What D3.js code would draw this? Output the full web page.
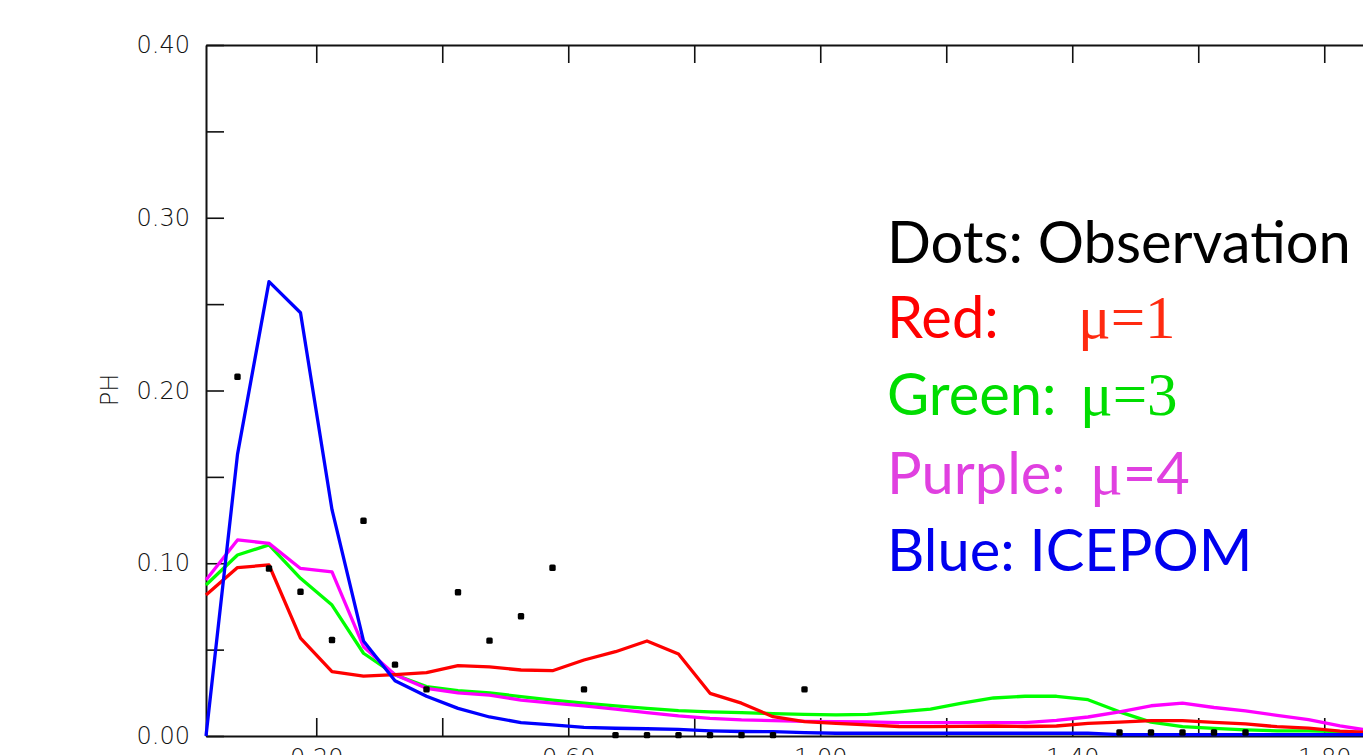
<!DOCTYPE html>
<html><head><meta charset="utf-8">
<script src="https://cdn.jsdelivr.net/npm/d3@7"></script>
<style>body{margin:0;background:#fff;overflow:hidden}</style>
</head><body><svg id="c" width="1363" height="755"></svg>
<script>
// bin centres (x)
const xBins = [0.025,0.075,0.125,0.175,0.225,0.275,0.325,0.375,0.425,0.475,
  0.525,0.575,0.625,0.675,0.725,0.775,0.825,0.875,0.925,0.975,
  1.025,1.075,1.125,1.175,1.225,1.275,1.325,1.375,1.425,1.475,
  1.525,1.575,1.625,1.675,1.725,1.775,1.825,1.875];
const redMu1 = [0.0816,0.0975,0.099,0.0567,0.0372,0.0347,0.0355,0.0367,0.0407,0.0400,
  0.0382,0.0378,0.044,0.0488,0.055,0.0475,0.0247,0.019,0.0112,0.0083,
  0.0073,0.0064,0.0055,0.0054,0.0056,0.0058,0.0055,0.0058,0.0073,0.008,
  0.0089,0.0089,0.0079,0.007,0.0054,0.0045,0.0028,0.002];
const greenMu3 = [0.0874,0.1048,0.1106,0.0913,0.0758,0.0479,0.0355,0.0286,0.0262,0.025,
  0.0228,0.0208,0.019,0.0174,0.016,0.0147,0.014,0.0135,0.013,0.0125,
  0.0122,0.0125,0.014,0.0155,0.019,0.022,0.023,0.023,0.021,0.014,
  0.008,0.0054,0.0044,0.0035,0.003,0.003,0.0025,0.0017];
const purpleMu4 = [0.0903,0.1135,0.1115,0.097,0.095,0.0517,0.0355,0.0276,0.025,0.0237,
  0.0208,0.019,0.0174,0.0155,0.0135,0.0116,0.0102,0.0093,0.0089,0.0085,
  0.0083,0.0082,0.0077,0.0077,0.0077,0.0077,0.0077,0.009,0.011,0.014,
  0.0175,0.019,0.0165,0.0145,0.012,0.0095,0.0058,0.003];
const blueIcepom = [0.0,0.163,0.263,0.245,0.131,0.055,0.032,0.023,0.016,0.011,
  0.0078,0.0065,0.005,0.0045,0.0042,0.0038,0.003,0.0026,0.0025,0.002,
  0.0016,0.0016,0.0016,0.0016,0.0016,0.0016,0.0016,0.0016,0.0016,0.0008,
  0.0008,0.0008,0.0008,0.0008,0.0008,0.0008,0.0008,0.0008];
// observations
const obsX = [0.075,0.125,0.175,0.225,0.275,0.325,0.375,0.425,0.475,0.525,0.575,0.625,
  0.675,0.725,0.775,0.825,0.875,0.925,0.975,1.475,1.525,1.575,1.625,1.675];
const obsY = [0.208,0.097,0.0835,0.0556,0.1246,0.0413,0.027,0.0832,0.0552,0.0693,0.0974,0.027,
  0.0005,0.0005,0.0005,0.0005,0.0005,0.0005,0.027,0.002,0.002,0.002,0.002,0.002];
const yTicks = [0,0.05,0.10,0.15,0.20,0.25,0.30,0.35,0.40];
const yLabelTicks = [0,0.10,0.20,0.30,0.40];
const xTicks = [0.2,0.4,0.6,0.8,1.0,1.2,1.4,1.6,1.8];
const xLabelTicks = [0.2,0.6,1.0,1.4,1.8];

const svg = d3.select('#c');
const x = d3.scaleLinear().domain([0.025,1.875]).range([206,1371.5]);
const y = d3.scaleLinear().domain([0,0.4]).range([736,45]);
const fmt = d3.format('.2f');
const near = (arr,d)=>arr.some(v=>Math.abs(v-d)<1e-9);

function styleAxis(g){
  g.selectAll('path.domain').attr('stroke','#111').attr('stroke-width',2);
  g.selectAll('line').attr('stroke','#111').attr('stroke-width',1.6);
  g.selectAll('text').attr('fill','#111').style('font-family','DejaVu Sans').style('font-size','24px').style('font-weight','200');
}
svg.append('g').attr('transform','translate(206,0)')
  .call(d3.axisLeft(y).tickValues(yTicks).tickSizeInner(-18).tickSizeOuter(0).tickPadding(16)
    .tickFormat(d=>near(yLabelTicks,d)?fmt(d):''))
  .call(styleAxis);
svg.append('g').attr('transform','translate(0,45)')
  .call(d3.axisTop(x).tickValues(xTicks).tickSizeInner(-18).tickSizeOuter(0).tickFormat(''))
  .call(styleAxis);
svg.append('g').attr('transform','translate(0,736)')
  .call(d3.axisBottom(x).tickValues(xTicks).tickSizeInner(-18).tickSizeOuter(0).tickPadding(13)
    .tickFormat(d=>near(xLabelTicks,d)?fmt(d):''))
  .call(styleAxis);

svg.append('text').attr('transform','translate(118,390) rotate(-90)')
  .attr('text-anchor','middle').attr('fill','#111')
  .style('font-family','DejaVu Sans').style('font-size','24px').style('font-weight','200').text('PH');

const line = d3.line().x((d,i)=>x(xBins[i])).y(d=>y(d));
const series = [
  {v:greenMu3,c:'#00ff00'},
  {v:purpleMu4,c:'#ff00ff'},
  {v:redMu1,c:'#ff0000'},
  {v:blueIcepom,c:'#0000ff'}
];
svg.append('g').selectAll('path').data(series).join('path')
  .attr('d',d=>line(d.v)).attr('fill','none').attr('stroke',d=>d.c)
  .attr('stroke-width',3.3).attr('stroke-linejoin','round');

svg.append('g').selectAll('rect').data(obsX).join('rect')
  .attr('x',(d)=>x(d)-3.2).attr('y',(d,i)=>y(obsY[i])-3.2).attr('width',6.4).attr('height',6.4)
  .attr('rx',1.5).attr('fill','#000');

// legend
const sans = 'Lato, "Open Sans", sans-serif';
const serif = '"Liberation Serif", "DejaVu Serif", serif';
const leg = svg.append('g');
const t0 = leg.append('text').attr('x',887).attr('y',263).style('font-family',sans).style('font-size','60px').attr('fill','#000').text('Dots: Observation');
const w = t0.node().getComputedTextLength();
const fs = 60*464/w;
t0.style('font-size',fs+'px');
function row(yb,label,col,muX,muCol,rest,restSerif){
  const t = leg.append('text').attr('y',yb).style('font-family',sans).style('font-size',fs+'px');
  t.append('tspan').attr('x',887).attr('fill',col).text(label);
  t.append('tspan').attr('x',muX).attr('fill',muCol).style('font-family',serif).style('font-size','61px').text('\u03bc');
  t.append('tspan').attr('fill',muCol).style('font-family',restSerif?serif:sans)
    .style('font-size',restSerif?'61px':fs+'px').text(rest);
}
row(337.6,'Red:','#ff0000',1078,'#ff2a10','=1',true);
row(414.8,'Green:','#00dd00',1080,'#00dd00','=3',true);
row(493.6,'Purple:','#e040e0',1090,'#e040e0','=4',false);
leg.append('text').attr('x',887).attr('y',570.8).style('font-family',sans).style('font-size',fs+'px').attr('fill','#0000ee').text('Blue: ICEPOM');
</script></body></html>
